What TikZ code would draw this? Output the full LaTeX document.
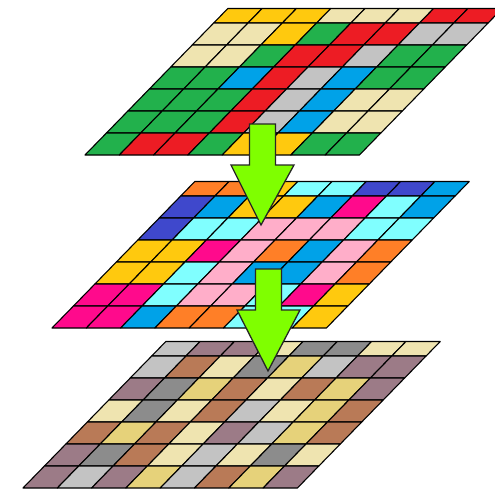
\documentclass[tikz,border=0pt]{standalone}
\usetikzlibrary{calc}
\definecolor{gold}{HTML}{FFC90E}
\definecolor{sand}{HTML}{EFE4B0}
\definecolor{scarlet}{HTML}{ED1C24}
\definecolor{leaf}{HTML}{22B14C}
\definecolor{silver}{HTML}{C3C3C3}
\definecolor{sky}{HTML}{00A2E8}
\definecolor{tangerine}{HTML}{FF7F27}
\definecolor{indigo}{HTML}{3F48CC}
\definecolor{aqua}{HTML}{80FFFF}
\definecolor{blush}{HTML}{FFAEC9}
\definecolor{magen}{HTML}{FF0A8C}
\definecolor{taupe}{HTML}{9C7B87}
\definecolor{clay}{HTML}{B97A57}
\definecolor{khaki}{HTML}{E6D27A}
\definecolor{slate}{HTML}{8C8C8C}
\definecolor{ash}{HTML}{C3C3C3}
\definecolor{lime}{HTML}{7FFF00}
\tikzset{
  cell/.style={draw=black,line width=1.1pt,line join=round},
  blockarrow/.style={draw=black!85,fill=lime,line width=1.3pt,line join=miter}
}
% one layer: #1,#2 = lower left corner, #3 = colours, rows from top
\newcommand{\layer}[3]{%
  \foreach \cl [count=\r from 0] in {#3} {
    \pgfmathsetmacro{\hl}{22*(6-\r)}
    \pgfmathsetmacro{\hu}{\r==0 ? 146.5 : 22*(7-\r)}
    \foreach \c [count=\k from 0] in \cl {
      \filldraw[cell,fill=\c] ({#1+\k*34.3+0.975*\hl},{#2-\hl}) -- ({#1+(\k+1)*34.3+0.975*\hl},{#2-\hl})
        -- ({#1+(\k+1)*34.3+0.975*\hu},{#2-\hu}) -- ({#1+\k*34.3+0.975*\hu},{#2-\hu}) -- cycle;
    }
  }
}
% block arrow from tail (#1) to tip (#2)
\newcommand{\pusharrow}[2]{%
  \draw[blockarrow] ($(#1)+(-13,0)$) -- ($(#1)+(13,0)$) -- ($(#1)+(13,41)$) -- ($(#1)+(31.5,41)$)
    -- (#2) -- ($(#1)+(-31.5,41)$) -- ($(#1)+(-13,41)$) -- cycle;
}

\begin{document}
\begin{tikzpicture}[x=1pt,y=-1pt]
  \useasboundingbox (0,0) rectangle (495,490);
  \clip (0,0) rectangle (495,490);

  % top layer
  \layer{85}{155}{
    {gold,gold,gold,sand,sand,sand,scarlet,scarlet},
    {sand,sand,gold,leaf,scarlet,scarlet,silver,silver},
    {sand,sand,leaf,scarlet,scarlet,silver,leaf,leaf},
    {leaf,leaf,sky,scarlet,silver,sky,leaf,leaf},
    {leaf,leaf,leaf,scarlet,silver,sky,sand,sand},
    {leaf,leaf,leaf,scarlet,silver,sky,sand,sand},
    {leaf,scarlet,scarlet,leaf,gold,gold,leaf,leaf}}

  % middle layer
  \layer{52}{328}{
    {tangerine,tangerine,gold,aqua,aqua,indigo,indigo,sky},
    {indigo,sky,gold,gold,sky,magen,aqua,sky},
    {indigo,aqua,aqua,blush,blush,blush,aqua,aqua},
    {gold,gold,magen,blush,tangerine,sky,blush,tangerine},
    {gold,gold,aqua,blush,sky,sky,blush,tangerine},
    {magen,magen,aqua,blush,blush,aqua,magen,gold},
    {magen,magen,sky,tangerine,tangerine,aqua,aqua,gold}}

  % bottom layer
  \layer{23}{488}{
    {ash,taupe,taupe,sand,slate,slate,sand,sand},
    {ash,clay,sand,slate,khaki,ash,taupe,taupe},
    {taupe,slate,khaki,clay,sand,clay,khaki,taupe},
    {sand,slate,sand,clay,ash,sand,khaki,clay},
    {clay,khaki,clay,sand,taupe,ash,khaki,clay},
    {taupe,slate,clay,sand,ash,sand,slate,sand},
    {taupe,ash,taupe,khaki,ash,clay,khaki,taupe}}

  \coordinate (tail1) at (262.5,124);
  \coordinate (tip1) at (261,225);
  \coordinate (tail2) at (268.5,269);
  \coordinate (tip2) at (268,371);
  \pusharrow{tail1}{tip1}
  \pusharrow{tail2}{tip2}
\end{tikzpicture}
\end{document}
